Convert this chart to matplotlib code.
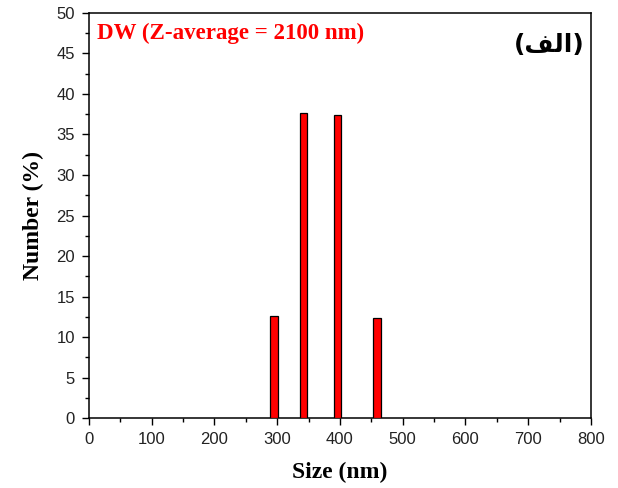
import numpy as np
import matplotlib
matplotlib.use("Agg")
import matplotlib.pyplot as plt
from matplotlib.ticker import MultipleLocator

# size distribution by number
sizes = [295, 342, 396, 459]
number_pct = [12.6, 37.6, 37.4, 12.4]
bar_width = 12

title_text = "DW (Z-average = 2100 nm)"
# "(الف)" in presentation forms, visual order (matplotlib has no bidi shaping)
panel_label = "(\ufed2\ufedf\ufe8d)"

fig = plt.figure(figsize=(6.18, 4.88), dpi=100)
ax = fig.add_axes([0.144, 0.1434, 0.8123, 0.83])

ax.bar(sizes, number_pct, width=bar_width, color="#ff0000",
       edgecolor="black", linewidth=0.9, zorder=3)

ax.set_xlim(0, 800)
ax.set_ylim(0, 50)
ax.xaxis.set_major_locator(MultipleLocator(100))
ax.xaxis.set_minor_locator(MultipleLocator(50))
ax.yaxis.set_major_locator(MultipleLocator(5))
ax.yaxis.set_minor_locator(MultipleLocator(2.5))

ax.tick_params(which="both", direction="out", top=False, right=False,
               width=1.0, colors="black", labelcolor="#222222")
ax.tick_params(which="major", length=5, labelsize=12, pad=5)
ax.tick_params(which="minor", length=3)
for lab in ax.get_xticklabels() + ax.get_yticklabels():
    lab.set_family("Liberation Sans")
for sp in ax.spines.values():
    sp.set_linewidth(1.1)

serif_bold = dict(family="Liberation Serif", fontweight="bold")
ax.set_xlabel("Size (nm)", fontsize=17, labelpad=11, **serif_bold)
ax.set_ylabel("Number (%)", fontsize=17, labelpad=9, **serif_bold)

ax.text(0.016, 0.95, title_text, transform=ax.transAxes, color="#ff0000",
        fontsize=16.5, ha="left", va="center", **serif_bold)
ax.text(0.988, 0.921, panel_label, transform=ax.transAxes, color="black",
        fontsize=18, ha="right", va="center", family="DejaVu Sans",
        fontweight="bold")

fig.savefig("out.png", dpi=100)
